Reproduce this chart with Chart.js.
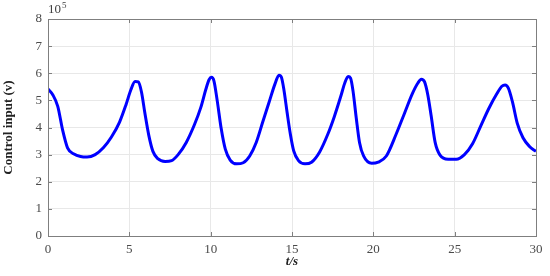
<!DOCTYPE html>
<html><head><meta charset="utf-8">
<script src="https://cdn.jsdelivr.net/npm/chart.js@4/dist/chart.umd.min.js"></script>
<style>html,body{margin:0;padding:0;background:#fff}#wrap{width:550px;height:276px}</style>
</head><body><div id="wrap"><canvas id="c" width="550" height="276"></canvas></div>
<script>
const timeS = [0,0.3,0.6,0.9,1.2,1.6,2.0,2.4,2.9,3.4,3.9,4.4,4.8,5.1,5.35,5.55,5.75,5.95,6.2,6.45,6.75,7.2,7.6,8.0,8.5,9.0,9.4,9.7,9.9,10.05,10.2,10.4,10.65,10.9,11.2,11.6,12.0,12.4,12.8,13.2,13.6,13.95,14.2,14.35,14.5,14.7,14.9,15.1,15.4,15.8,16.2,16.7,17.2,17.6,18.0,18.25,18.45,18.6,18.75,18.95,19.15,19.4,19.9,20.3,20.8,21.4,21.9,22.4,22.75,22.95,23.15,23.35,23.55,23.8,24.1,24.6,25.1,25.6,26.1,26.6,27.1,27.6,27.9,28.1,28.3,28.55,28.85,29.2,29.6,30];
const controlInput = [5.42,5.2,4.78,3.9,3.25,3.02,2.93,2.91,3.0,3.25,3.65,4.2,4.85,5.4,5.7,5.68,5.3,4.55,3.7,3.12,2.85,2.75,2.78,3.0,3.45,4.1,4.75,5.4,5.76,5.85,5.72,5.0,3.95,3.2,2.8,2.66,2.7,2.95,3.45,4.2,4.95,5.6,5.93,5.85,5.4,4.55,3.75,3.15,2.78,2.66,2.72,3.1,3.75,4.4,5.15,5.65,5.88,5.82,5.35,4.35,3.45,2.95,2.68,2.72,2.95,3.75,4.5,5.25,5.65,5.78,5.68,5.2,4.45,3.45,2.98,2.83,2.83,3.0,3.4,4.05,4.7,5.25,5.52,5.57,5.45,4.95,4.15,3.62,3.3,3.12];
const xTicks = [0,5,10,15,20,25,30];
const yTicks = [0,1,2,3,4,5,6,7,8];
const yTitle = "Control input (v)";
const xTitle = "t/s";
const expLabel = ["10","5"];

const pts = timeS.map((t,i)=>({x:t,y:controlInput[i]}));
const serif = "'Liberation Serif','Times New Roman',serif";
const boxPlugin = {
  id:'box',
  afterDraw(chart){
    const {ctx, chartArea:a, scales} = chart;
    ctx.save();
    ctx.strokeStyle = '#7f7f7f'; ctx.lineWidth = 1;
    ctx.strokeRect(a.left+0.5, a.top+0.5, a.right-a.left, a.bottom-a.top);
    ctx.beginPath();
    xTicks.forEach(v=>{const px=Math.round(scales.x.getPixelForValue(v))+0.5;
      ctx.moveTo(px,a.bottom); ctx.lineTo(px,a.bottom-4);
      ctx.moveTo(px,a.top); ctx.lineTo(px,a.top+4);});
    yTicks.forEach(v=>{const py=Math.round(scales.y.getPixelForValue(v))+0.5;
      ctx.moveTo(a.left,py); ctx.lineTo(a.left+4,py);
      ctx.moveTo(a.right,py); ctx.lineTo(a.right-4,py);});
    ctx.stroke();
    ctx.fillStyle = '#404040';
    ctx.font = "13px "+serif;
    ctx.textBaseline = 'alphabetic'; ctx.textAlign='left';
    ctx.fillText(expLabel[0], a.left, a.top-6);
    const w = ctx.measureText(expLabel[0]).width;
    ctx.font = "9px "+serif;
    ctx.fillText(expLabel[1], a.left+w+1, a.top-11);
    ctx.restore();
  }
};
new Chart(document.getElementById('c'), {
  type:'line',
  data:{datasets:[{data:pts, borderColor:'#0000ff', borderWidth:3, pointRadius:0, tension:0.4, cubicInterpolationMode:'monotone', fill:false}]},
  options:{
    responsive:false, animation:false, devicePixelRatio:1,
    layout:{padding:{left:0,right:14,top:19,bottom:0}},
    plugins:{legend:{display:false}, tooltip:{enabled:false}},
    scales:{
      x:{type:'linear', min:0, max:30,
        afterBuildTicks(s){ s.ticks = xTicks.map(v=>({value:v})); },
        afterFit(s){ s.height = 40; },
        grid:{color:'#e8e8e8', drawTicks:false},
        border:{display:false},
        ticks:{color:'#4a4a4a', padding:6, font:{family:serif,size:13}},
        title:{display:true, text:xTitle, color:'#222', padding:{top:0,bottom:7}, font:{family:serif,size:13,style:'italic',weight:'bold'}}
      },
      y:{type:'linear', min:0, max:8,
        afterBuildTicks(s){ s.ticks = yTicks.map(v=>({value:v})); },
        afterFit(s){ s.width = 48; },
        grid:{color:'#e8e8e8', drawTicks:false},
        border:{display:false},
        ticks:{color:'#4a4a4a', padding:6, font:{family:serif,size:13}},
        title:{display:true, text:yTitle, color:'#222', padding:{top:1,bottom:0}, font:{family:serif,size:13,weight:'bold'}}
      }
    }
  },
  plugins:[boxPlugin]
});
</script></body></html>
